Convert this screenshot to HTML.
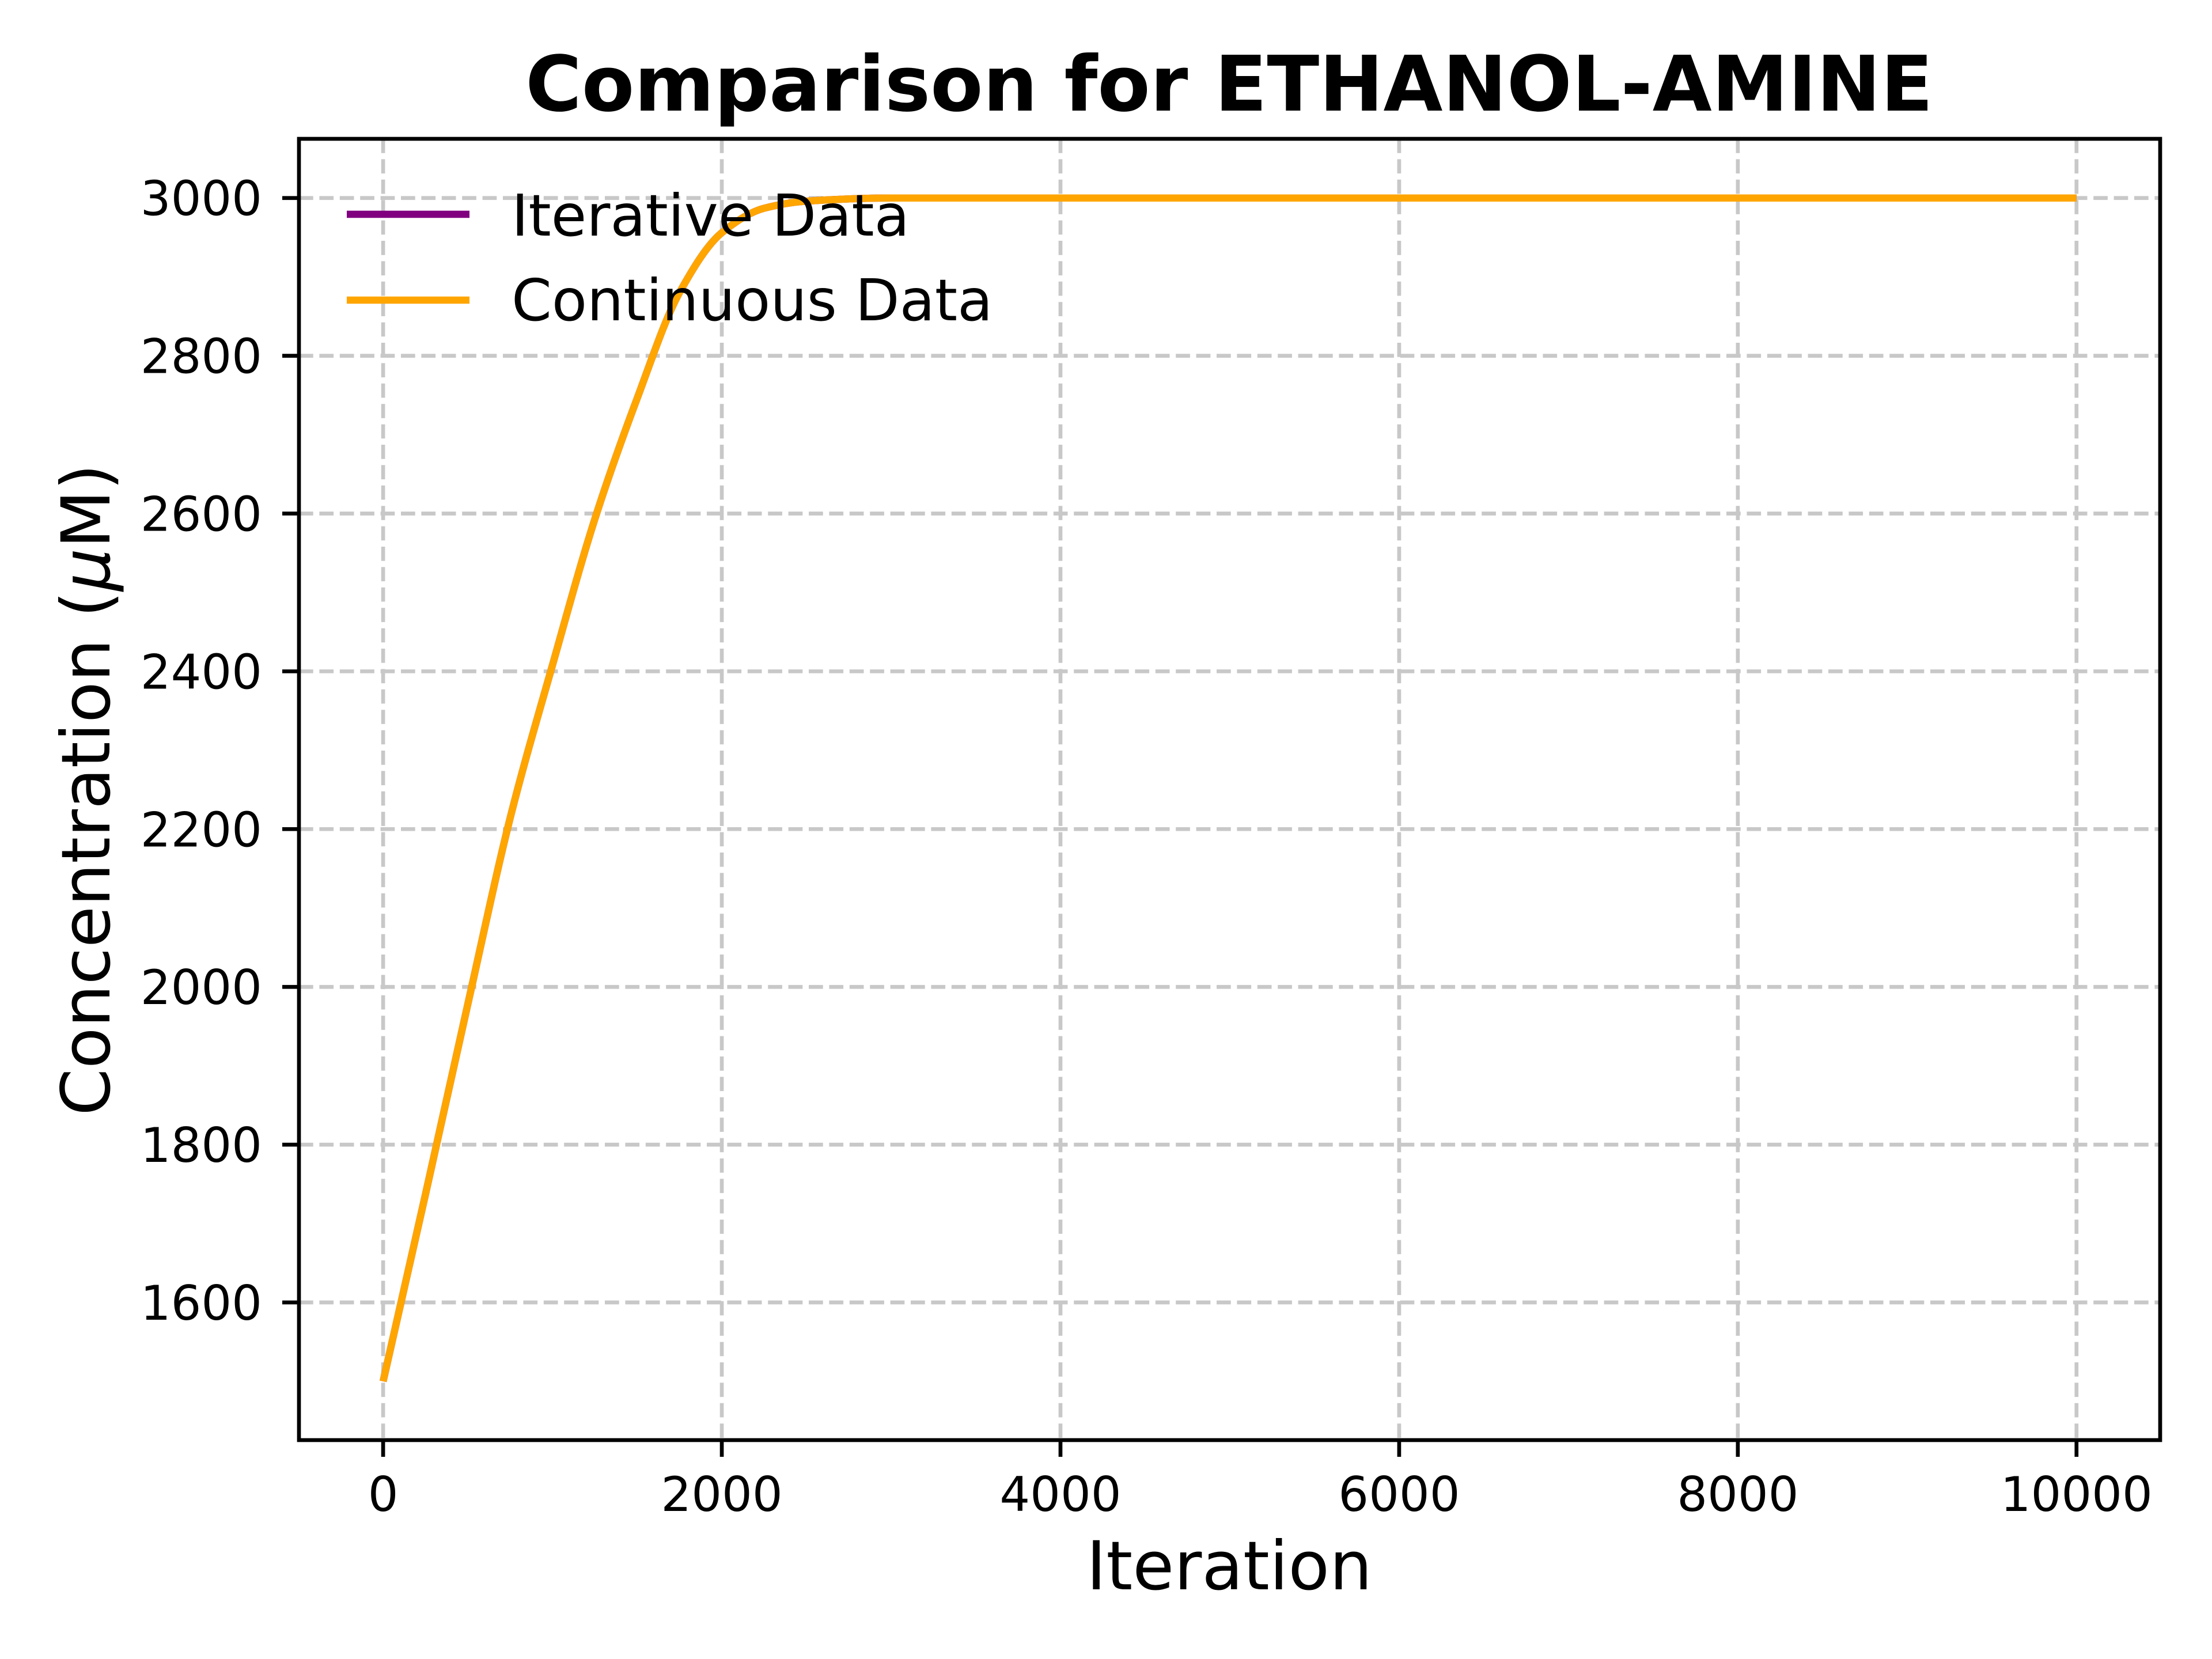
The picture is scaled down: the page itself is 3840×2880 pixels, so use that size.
<!DOCTYPE html>
<html><head><meta charset="utf-8"><style>
html,body{margin:0;padding:0;background:#fff;}
svg{display:block;font-family:"DejaVu Sans","Liberation Sans",sans-serif;}
</style></head><body>
<svg id="chart" width="3840" height="2880" viewBox="0 0 3840 2880" xmlns="http://www.w3.org/2000/svg">
<rect width="3840" height="2880" fill="#fff"/>
<g id="grid"></g>
<g id="series"></g>
<g id="axes"></g>
<text x="2134" y="192" font-size="133" font-weight="bold" text-anchor="middle">Comparison for ETHANOL-AMINE</text>
<text x="2134" y="2759" font-size="117" text-anchor="middle">Iteration</text>
<text x="0" y="0" font-size="117" text-anchor="middle" transform="translate(190,1371) rotate(-90)">Concentration (<tspan font-style="italic">μ</tspan>M)</text>
<g>
<line x1="602" y1="372" x2="815" y2="372" stroke="purple" stroke-width="12.5"/>
<text x="888" y="409" font-size="100">Iterative Data</text>
<line x1="602" y1="521" x2="815" y2="521" stroke="orange" stroke-width="12.5"/>
<text x="888" y="556" font-size="100">Continuous Data</text>
</g>
</svg>
<script>
const iterations = [0,250,500,750,1000,1250,1500,1750,2000,2250,2500,3000,4000,6000,8000,10000];
const iterativeValues = [1500,1737,1978,2214,2408,2593,2746,2880,2956,2987,2996,3000,3000,3000,3000,3000];
const continuousValues = [1500,1737,1978,2214,2408,2593,2746,2880,2956,2987,2996,3000,3000,3000,3000,3000];
const xTicks = [0,2000,4000,6000,8000,10000];
const yTicks = [1600,1800,2000,2200,2400,2600,2800,3000];

const L=519,R=3750,T=241,B=2500;
const xMin=-497,xMax=10494,yMin=1425.5,yMax=3075;
const sx=v=>L+(v-xMin)/(xMax-xMin)*(R-L);
const sy=v=>B-(v-yMin)/(yMax-yMin)*(B-T);
const NS='http://www.w3.org/2000/svg';
function mk(tag,attrs,parent){const e=document.createElementNS(NS,tag);for(const k in attrs)e.setAttribute(k,attrs[k]);parent.appendChild(e);return e;}
const grid=document.getElementById('grid'),axes=document.getElementById('axes'),series=document.getElementById('series');
xTicks.forEach(t=>{
  const g=mk('line',{x1:sx(t),x2:sx(t),y1:T,y2:B,stroke:'#c8c8c8','stroke-width':6.7,'stroke-dasharray':'24.7 10.7'},grid);
  
  
  const tk=mk('line',{x1:sx(t),x2:sx(t),y1:B,y2:B+29,stroke:'#000','stroke-width':6.7},axes);
  
  
  const lb=mk('text',{x:sx(t),y:2623,'font-size':83,'text-anchor':'middle'},axes);
  lb.textContent=t;
  
  
});
yTicks.forEach(t=>{
  const g=mk('line',{x1:L,x2:R,y1:sy(t),y2:sy(t),stroke:'#c8c8c8','stroke-width':6.7,'stroke-dasharray':'24.7 10.7'},grid);
  
  
  const tk=mk('line',{x1:L-29,x2:L,y1:sy(t),y2:sy(t),stroke:'#000','stroke-width':6.7},axes);
  
  
  const lb=mk('text',{x:455,y:sy(t)+30,'font-size':83,'text-anchor':'end'},axes);
  lb.textContent=t;
  
  
});
const frame=mk('rect',{x:L,y:T,width:R-L,height:B-T,fill:'none',stroke:'#000','stroke-width':6.7},axes);


// monotone cubic (Fritsch-Carlson) smooth path through data points
function path(xs,ys){
  const X=xs.map(sx),Y=ys.map(sy),n=X.length;
  const d=[],m=new Array(n);
  for(let i=0;i<n-1;i++)d.push((Y[i+1]-Y[i])/(X[i+1]-X[i]));
  m[0]=d[0];m[n-1]=d[n-2];
  for(let i=1;i<n-1;i++){
    if(d[i-1]*d[i]<=0)m[i]=0;
    else{const h0=X[i]-X[i-1],h1=X[i+1]-X[i];const w1=2*h1+h0,w2=h1+2*h0;m[i]=(w1+w2)/(w1/d[i-1]+w2/d[i]);}
  }
  let s='M'+X[0].toFixed(1)+' '+Y[0].toFixed(1);
  for(let i=0;i<n-1;i++){
    const h=(X[i+1]-X[i])/3;
    s+=' C'+(X[i]+h).toFixed(1)+' '+(Y[i]+m[i]*h).toFixed(1)+' '+(X[i+1]-h).toFixed(1)+' '+(Y[i+1]-m[i+1]*h).toFixed(1)+' '+X[i+1].toFixed(1)+' '+Y[i+1].toFixed(1);
  }
  return s;
}
const p1=mk('path',{d:path(iterations,iterativeValues),fill:'none',stroke:'purple','stroke-width':12.5,'stroke-linejoin':'round'},series);


const p2=mk('path',{d:path(iterations,continuousValues),fill:'none',stroke:'orange','stroke-width':12.5,'stroke-linejoin':'round'},series);


</script>
</body></html>
